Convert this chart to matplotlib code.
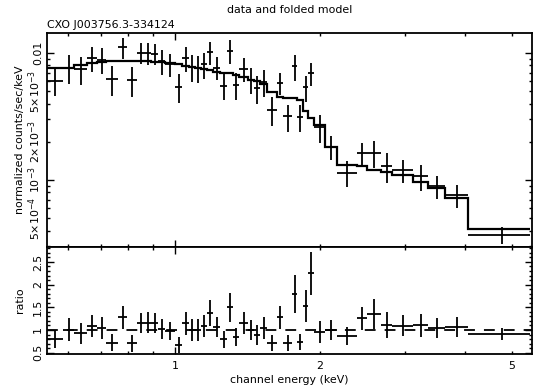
import numpy as np
import matplotlib
matplotlib.use('Agg')
import matplotlib.pyplot as plt
from matplotlib.ticker import FixedLocator, FuncFormatter, NullFormatter

# channel bin edges (keV)
edges = [0.542, 0.586, 0.617, 0.657, 0.689, 0.719, 0.762, 0.795, 0.834, 0.867,
         0.892, 0.922, 0.953, 1.000, 1.034, 1.069, 1.100, 1.132, 1.165, 1.199,
         1.240, 1.282, 1.320, 1.358, 1.418, 1.459, 1.501, 1.552, 1.628, 1.676,
         1.749, 1.792, 1.844, 1.889, 1.944, 2.048, 2.169, 2.387, 2.504, 2.677,
         2.822, 3.120, 3.352, 3.636, 4.058, 5.47]

# folded model (counts/sec/keV) per bin
model = [7.58e-3, 7.58e-3, 8.04e-3, 8.39e-3, 8.54e-3, 8.65e-3, 8.65e-3, 8.65e-3, 8.65e-3, 8.60e-3,
         8.54e-3, 8.50e-3, 8.34e-3, 8.12e-3, 7.90e-3, 7.76e-3, 7.62e-3, 7.48e-3, 7.35e-3, 7.15e-3,
         7.02e-3, 6.90e-3, 6.71e-3, 6.47e-3, 6.18e-3, 5.97e-3, 5.70e-3, 4.96e-3, 4.53e-3, 4.46e-3,
         4.40e-3, 4.25e-3, 3.50e-3, 3.08e-3, 2.72e-3, 1.83e-3, 1.31e-3, 1.30e-3, 1.21e-3, 1.16e-3,
         1.094e-3, 9.7e-4, 8.6e-4, 7.18e-4, 4.09e-4]

# data / model and its error
ratio = [0.80, 1.01, 0.93, 1.09, 1.04, 0.72, 1.28, 0.71, 1.16, 1.16,
         1.16, 1.02, 0.98, 0.67, 1.15, 1.00, 1.00, 1.09, 1.38, 1.07,
         0.79, 1.50, 0.84, 1.16, 1.00, 0.89, 1.04, 0.72, 1.28, 0.71,
         1.79, 0.74, 1.53, 2.25, 0.96, 1.00, 0.87, 1.26, 1.35, 1.11,
         1.09, 1.10, 1.04, 1.06, 0.91]
ratio_err = [0.19, 0.26, 0.23, 0.25, 0.24, 0.19, 0.25, 0.19, 0.22, 0.23,
             0.22, 0.23, 0.20, 0.17, 0.25, 0.24, 0.24, 0.25, 0.29, 0.22,
             0.18, 0.32, 0.20, 0.24, 0.23, 0.22, 0.25, 0.18, 0.25, 0.17,
             0.42, 0.18, 0.36, 0.48, 0.24, 0.22, 0.20, 0.25, 0.33, 0.29,
             0.23, 0.25, 0.22, 0.22, 0.14]

edges = np.array(edges)
model = np.array(model)
ratio = np.array(ratio)
ratio_err = np.array(ratio_err)

lo, hi = edges[:-1], edges[1:]
e_mid = 0.5*(lo + hi)
xerr = [e_mid - lo, hi - e_mid]
# counts = ratio * model (xspec ratio is data/model)
flux = ratio*model
flux_err = ratio_err*model

plt.rcParams['font.family'] = 'DejaVu Sans'
plt.rcParams['font.size'] = 7.9
plt.rcParams['mathtext.default'] = 'regular'

W, H = 533., 392.
fig = plt.figure(figsize=(5.33, 3.92), dpi=100)
ax1 = fig.add_axes([47/W, 1-247/H, (532-47)/W, (247-33)/H])
ax2 = fig.add_axes([47/W, 1-354/H, (532-47)/W, (354-247)/H])

ax1.errorbar(e_mid, flux, xerr=xerr, yerr=flux_err, fmt='none',
             ecolor='k', elinewidth=1.3, capsize=0)
ax1.stairs(model, edges, baseline=None, color='k', lw=1.6)

ax2.errorbar(e_mid, ratio, xerr=xerr, yerr=ratio_err, fmt='none',
             ecolor='k', elinewidth=1.3, capsize=0)
ax2.axhline(1, color='k', lw=1.3, ls=(0, (6, 5)))

xmaj = [1]
xmin = [0.6, 0.7, 0.8, 0.9, 2, 3, 4, 5]
xlab = {1: '1', 2: '2', 5: '5'}
for ax in (ax1, ax2):
    ax.set_xscale('log')
    ax.set_xlim(0.542, 5.51)
    ax.xaxis.set_major_locator(FixedLocator(xmaj))
    ax.xaxis.set_minor_locator(FixedLocator(xmin))
    ax.tick_params(which='both', direction='in', top=True, right=True,
                   width=1, colors='k')
    ax.tick_params(which='major', length=5)
    ax.tick_params(which='minor', length=2.5)
    for s in ax.spines.values():
        s.set_linewidth(1.3)

ax1.xaxis.set_major_formatter(NullFormatter())
ax1.xaxis.set_minor_formatter(NullFormatter())
fmt_x = FuncFormatter(lambda v, p: xlab.get(round(v, 3), ''))
ax2.xaxis.set_major_formatter(fmt_x)
ax2.xaxis.set_minor_formatter(fmt_x)
ax2.tick_params(axis='x', which='both', pad=5)

# top panel y axis
ylab = {1e-2: '0.01', 5e-3: r'5$\times$10$^{-3}$', 2e-3: r'2$\times$10$^{-3}$',
        1e-3: r'10$^{-3}$', 5e-4: r'5$\times$10$^{-4}$'}
ax1.set_yscale('log')
ax1.set_ylim(2.97e-4, 1.437e-2)
ax1.yaxis.set_major_locator(FixedLocator([1e-3, 1e-2]))
ax1.yaxis.set_minor_locator(FixedLocator([k*1e-4 for k in range(3, 10)] +
                                         [k*1e-3 for k in range(2, 10)]))
fmt_y = FuncFormatter(lambda v, p: next((t for k, t in ylab.items() if abs(v/k - 1) < 1e-6), ''))
ax1.yaxis.set_major_formatter(fmt_y)
ax1.yaxis.set_minor_formatter(fmt_y)
ax1.tick_params(axis='y', which='both', labelrotation=90, pad=3)
for t in ax1.get_yticklabels(which='both'):
    t.set_va('center')

# ratio panel y axis
ax2.set_ylim(0.47, 2.83)
ax2.set_yticks([0.5, 1, 1.5, 2, 2.5])
ax2.set_yticklabels(['0.5', '1', '1.5', '2', '2.5'])
ax2.yaxis.set_minor_locator(FixedLocator(np.arange(0.5, 2.85, 0.1)))
ax2.tick_params(axis='y', which='both', labelrotation=90, pad=3)
for t in ax2.get_yticklabels():
    t.set_va('center')

fig.text(289.5/W, 1-10/H, 'data and folded model', ha='center', va='center')
fig.text(47/W, 1-28/H, 'CXO J003756.3-334124', ha='left', va='baseline')
fig.text(289.5/W, 1-380/H, 'channel energy (keV)', ha='center', va='center')
fig.text(20/W, 1-140/H, 'normalized counts/sec/keV', rotation=90, ha='center', va='center')
fig.text(20/W, 1-300/H, 'ratio', rotation=90, ha='center', va='center')

fig.savefig('out.png', dpi=100)
